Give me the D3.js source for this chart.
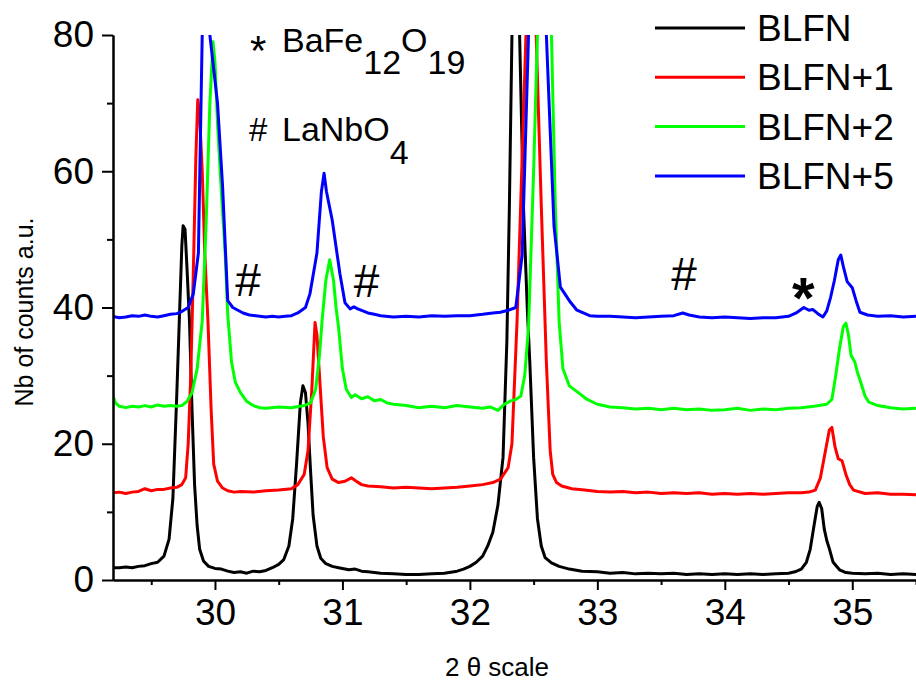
<!DOCTYPE html>
<html><head><meta charset="utf-8">
<script src="https://cdn.jsdelivr.net/npm/d3@7"></script>
<style>body{margin:0;background:#fff}svg{display:block}text{font-family:"Liberation Sans",Arial,sans-serif;fill:#000}</style>
</head><body><svg id="c" width="916" height="681"></svg>
<script>
const seriesNames = ["BLFN","BLFN+1","BLFN+2","BLFN+5"];
const seriesColors = ["#000000","#ff0000","#00ff00","#0000ff"];
const xMajorTicks = [30,31,32,33,34,35];
const xMinorTicks = [29.5,30.5,31.5,32.5,33.5,34.5,35.5];
const yMajorTicks = [0,20,40,60,80];
const yMinorTicks = [10,30,50,70];

const blfn = [[29.20,1.8],[29.25,1.8],[29.30,1.9],[29.35,1.8],[29.40,2.0],[29.45,2.1],[29.50,2.4],[29.55,2.6],[29.60,3.5],[29.64,6],[29.67,12],[29.70,27],[29.72,38],[29.74,49],[29.75,52],[29.765,51.5],[29.78,46],[29.80,38],[29.82,25],[29.84,14],[29.86,8],[29.88,4.5],[29.91,2.8],[29.95,2.0],[30.00,1.7],[30.05,1.6],[30.10,1.3],[30.15,1.1],[30.20,1.2],[30.25,1.0],[30.30,1.3],[30.35,1.2],[30.40,1.4],[30.45,1.8],[30.50,2.3],[30.54,3.0],[30.58,5.0],[30.61,9],[30.64,17],[30.67,26],[30.69,28.5],[30.71,27.5],[30.73,23],[30.75,16],[30.77,9.5],[30.80,5],[30.83,3.2],[30.87,2.4],[30.92,2.0],[30.97,1.8],[31.05,1.5],[31.10,1.6],[31.15,1.3],[31.20,1.2],[31.30,1.0],[31.40,0.9],[31.50,0.8],[31.60,0.8],[31.70,0.9],[31.80,1.0],[31.90,1.3],[31.95,1.6],[32.00,2.0],[32.05,2.6],[32.10,3.5],[32.14,5],[32.18,7],[32.22,11],[32.26,18],[32.29,35],[32.31,55],[32.33,80],[32.365,110],[32.39,80],[32.42,55],[32.45,40],[32.47,32],[32.50,18],[32.53,9],[32.56,5],[32.59,3.3],[32.64,2.5],[32.70,2.0],[32.78,1.6],[32.88,1.3],[33.00,1.2],[33.10,1.0],[33.20,1.1],[33.30,0.9],[33.40,1.0],[33.50,0.9],[33.60,1.0],[33.70,0.8],[33.80,0.9],[33.90,0.8],[34.00,0.9],[34.10,0.8],[34.20,0.9],[34.30,0.8],[34.40,0.9],[34.50,1.0],[34.55,1.2],[34.60,1.6],[34.64,2.6],[34.67,4.5],[34.70,8],[34.725,10.8],[34.74,11.4],[34.76,10.5],[34.78,7.5],[34.80,5.8],[34.82,4.6],[34.85,2.6],[34.90,1.5],[34.95,1.1],[35.00,1.0],[35.10,0.9],[35.20,1.0],[35.30,0.8],[35.40,0.9],[35.50,0.8]];

const blfn1 = [[29.20,12.8],[29.25,12.9],[29.30,12.7],[29.35,12.9],[29.40,13.0],[29.45,13.4],[29.50,13.1],[29.55,13.3],[29.60,13.3],[29.65,13.5],[29.70,13.6],[29.74,14.0],[29.77,15.0],[29.79,20],[29.81,30],[29.83,45],[29.85,62],[29.865,70.5],[29.88,68],[29.90,60],[29.92,48],[29.945,38],[29.97,25],[29.99,17],[30.02,14.5],[30.06,13.5],[30.10,13.1],[30.15,12.9],[30.20,13.0],[30.30,12.9],[30.40,13.1],[30.50,13.2],[30.60,13.4],[30.65,14.0],[30.70,15.5],[30.73,19],[30.76,28],[30.785,37.8],[30.80,36],[30.82,30],[30.85,21],[30.88,16.5],[30.92,14.8],[30.97,14.3],[31.02,14.5],[31.07,15.0],[31.10,14.6],[31.15,14.0],[31.20,13.8],[31.30,13.7],[31.40,13.5],[31.50,13.6],[31.60,13.5],[31.70,13.4],[31.80,13.5],[31.90,13.6],[32.00,13.8],[32.10,14.0],[32.18,14.3],[32.24,14.8],[32.30,16.5],[32.33,20],[32.37,38],[32.41,62],[32.44,80],[32.48,105],[32.52,80],[32.56,55],[32.60,32],[32.63,19],[32.65,15.5],[32.68,14.3],[32.72,13.8],[32.80,13.4],[32.90,13.2],[33.00,13.0],[33.10,12.9],[33.20,13.0],[33.30,12.8],[33.40,12.9],[33.50,12.7],[33.60,12.8],[33.70,12.7],[33.80,12.8],[33.90,12.6],[34.00,12.7],[34.10,12.6],[34.20,12.7],[34.30,12.6],[34.40,12.7],[34.50,12.8],[34.60,12.8],[34.66,12.9],[34.71,13.2],[34.75,15],[34.79,19],[34.82,22],[34.84,22.4],[34.865,19.5],[34.89,17.8],[34.92,17.5],[34.95,15.5],[34.98,14],[35.01,13.2],[35.10,12.7],[35.20,12.8],[35.30,12.6],[35.40,12.6],[35.50,12.5]];

const blfn2 = [[29.20,27.0],[29.22,26.0],[29.25,25.5],[29.30,25.3],[29.35,25.5],[29.40,25.4],[29.45,25.6],[29.50,25.4],[29.55,25.7],[29.60,25.5],[29.65,25.6],[29.70,25.5],[29.74,25.6],[29.78,26.2],[29.82,27.5],[29.86,31],[29.90,38],[29.93,52],[29.96,70],[29.985,79],[30.00,76],[30.02,67],[30.05,57],[30.08,48],[30.10,39],[30.13,32],[30.16,29],[30.20,27.5],[30.25,26.2],[30.30,25.6],[30.35,25.3],[30.40,25.2],[30.50,25.4],[30.60,25.3],[30.70,25.6],[30.75,26.0],[30.79,28],[30.82,33],[30.84,38],[30.87,44],[30.90,47],[30.93,44],[30.95,40],[30.97,37],[31.00,31],[31.03,28],[31.07,26.8],[31.10,27.2],[31.15,26.6],[31.20,26.9],[31.25,26.3],[31.30,26.5],[31.35,26.0],[31.40,25.8],[31.50,25.6],[31.60,25.3],[31.70,25.5],[31.80,25.3],[31.90,25.6],[32.00,25.4],[32.10,25.2],[32.16,25.4],[32.22,24.9],[32.27,25.8],[32.32,26.3],[32.36,26.5],[32.40,27],[32.43,30],[32.46,37],[32.50,60],[32.53,80],[32.585,112],[32.64,80],[32.67,55],[32.70,38],[32.73,31],[32.78,28.5],[32.85,27.5],[32.92,26.5],[33.00,25.8],[33.10,25.4],[33.20,25.3],[33.30,25.1],[33.40,25.2],[33.50,25.0],[33.60,25.2],[33.70,25.0],[33.80,25.1],[33.90,24.9],[34.00,25.0],[34.10,25.2],[34.20,24.9],[34.30,25.1],[34.40,25.0],[34.50,25.2],[34.60,25.3],[34.70,25.5],[34.80,25.8],[34.84,26.5],[34.87,30],[34.90,34],[34.93,37.2],[34.95,37.7],[34.97,36],[34.99,33],[35.02,32],[35.04,30.5],[35.06,29.4],[35.10,27],[35.13,26.1],[35.20,25.6],[35.30,25.3],[35.40,25.1],[35.50,25.2]];

const blfn5 = [[29.20,38.7],[29.25,38.5],[29.30,38.6],[29.35,38.8],[29.40,38.7],[29.45,38.9],[29.50,38.7],[29.55,38.6],[29.60,38.8],[29.65,39.0],[29.70,39.1],[29.73,39.3],[29.79,40],[29.83,42],[29.87,48],[29.90,80],[29.93,105],[29.96,80],[30.02,70],[30.06,57.7],[30.10,41],[30.14,40],[30.18,39.6],[30.22,39.2],[30.27,38.9],[30.32,38.8],[30.40,38.6],[30.45,38.7],[30.50,38.6],[30.55,38.7],[30.60,38.8],[30.65,39.2],[30.71,40],[30.745,42],[30.80,48],[30.835,57],[30.856,59.7],[30.875,57],[30.92,52.8],[30.98,45],[31.02,40.7],[31.06,39.8],[31.09,40.1],[31.12,39.8],[31.16,39.5],[31.20,39.2],[31.25,39.0],[31.30,38.8],[31.40,38.6],[31.50,38.7],[31.60,38.6],[31.70,38.8],[31.80,38.7],[31.90,38.8],[32.00,38.8],[32.10,39.0],[32.18,39.2],[32.24,39.3],[32.30,39.6],[32.36,40],[32.41,47.7],[32.46,80],[32.53,110],[32.60,80],[32.66,52],[32.71,43],[32.78,41],[32.84,39.6],[32.94,38.8],[33.00,38.7],[33.10,38.7],[33.20,38.6],[33.30,38.5],[33.40,38.6],[33.50,38.7],[33.60,38.8],[33.67,39.2],[33.72,38.9],[33.80,38.6],[33.90,38.5],[34.00,38.6],[34.10,38.5],[34.20,38.4],[34.30,38.5],[34.40,38.5],[34.50,38.7],[34.56,39.2],[34.62,40.0],[34.66,39.6],[34.69,39.7],[34.73,39.1],[34.77,38.6],[34.80,39.5],[34.83,41.5],[34.86,44],[34.89,47],[34.91,47.7],[34.93,46],[34.96,43.8],[35.00,42.9],[35.03,41],[35.06,39.3],[35.12,38.9],[35.20,38.7],[35.30,38.8],[35.40,38.6],[35.50,38.7]];

const allSeries = [blfn, blfn1, blfn2, blfn5];

const svg = d3.select("#c");
const x = d3.scaleLinear().domain([29.2, 35.5]).range([113, 916]);
const y = d3.scaleLinear().domain([0, 80]).range([580, 35]);

svg.append("defs").append("clipPath").attr("id","clip")
  .append("rect").attr("x",113).attr("y",35).attr("width",803).attr("height",545);

const line = d3.line().x(d=>x(d[0])).y(d=>y(d[1]));
const g = svg.append("g").attr("clip-path","url(#clip)");
allSeries.forEach((s,i)=>{
  g.append("path").datum(s).attr("d",line).attr("fill","none")
    .attr("stroke",seriesColors[i]).attr("stroke-width",3).attr("stroke-linejoin","round");
});

// axes
const xMinor = svg.append("g").attr("transform","translate(0,580)")
  .call(d3.axisBottom(x).tickValues(xMinorTicks).tickSize(5).tickSizeOuter(0).tickFormat(""));
const xAx = svg.append("g").attr("transform","translate(0,580)")
  .call(d3.axisBottom(x).tickValues(xMajorTicks).tickSize(10).tickPadding(9).tickSizeOuter(0).tickFormat(d3.format("d")));
const yMinor = svg.append("g").attr("transform","translate(113,0)")
  .call(d3.axisLeft(y).tickValues(yMinorTicks).tickSize(6).tickSizeOuter(0).tickFormat(""));
const yAx = svg.append("g").attr("transform","translate(113,0)")
  .call(d3.axisLeft(y).tickValues(yMajorTicks).tickSize(11).tickPadding(8).tickSizeOuter(0).tickFormat(d3.format("d")));
[xMinor,xAx,yMinor,yAx].forEach(a=>{
  a.selectAll("path").attr("stroke","#000").attr("stroke-width",2);
  a.selectAll("line").attr("stroke","#000").attr("stroke-width",2);
  a.selectAll("text").attr("font-size",37).attr("font-family","'Liberation Sans',Arial,sans-serif").attr("fill","#000");
});

// axis titles
svg.append("text").attr("x",497).attr("y",676).attr("text-anchor","middle")
  .attr("font-size",26).text("2 \u03b8 scale");
svg.append("text").attr("transform","translate(33,312) rotate(-90)").attr("text-anchor","middle")
  .attr("font-size",25).text("Nb of counts a.u.");

// legend
const leg = svg.append("g");
seriesNames.forEach((n,i)=>{
  const yy = 28 + i*49.3;
  leg.append("line").attr("x1",655).attr("x2",745).attr("y1",yy).attr("y2",yy)
    .attr("stroke",seriesColors[i]).attr("stroke-width",3);
  leg.append("text").attr("x",757).attr("y",yy+13).attr("font-size",37).text(n);
});

// phase annotations
svg.append("text").attr("x",250).attr("y",65).attr("font-size",42).text("*");
const t1 = svg.append("text").attr("x",282).attr("y",52).attr("font-size",34);
t1.append("tspan").text("BaFe");
t1.append("tspan").attr("dy",22).text("12");
t1.append("tspan").attr("dy",-22).text("O");
t1.append("tspan").attr("dy",22).text("19");
svg.append("text").attr("x",249).attr("y",141).attr("font-size",33).text("#");
const t2 = svg.append("text").attr("x",282).attr("y",141).attr("font-size",34);
t2.append("tspan").text("LaNbO");
t2.append("tspan").attr("dy",23).text("4");

// peak markers
const markers = [["#",30.26,41.7],["#",31.19,41.5],["#",33.68,42.6],["*",34.616,38.5]];
markers.forEach(m=>{
  svg.append("text").attr("x",x(m[1])).attr("y",y(m[2])).attr("text-anchor","middle")
    .attr("font-size",m[0]==="*"?58:46).attr("font-weight",m[0]==="*"?"bold":"normal").text(m[0]);
});
</script></body></html>
